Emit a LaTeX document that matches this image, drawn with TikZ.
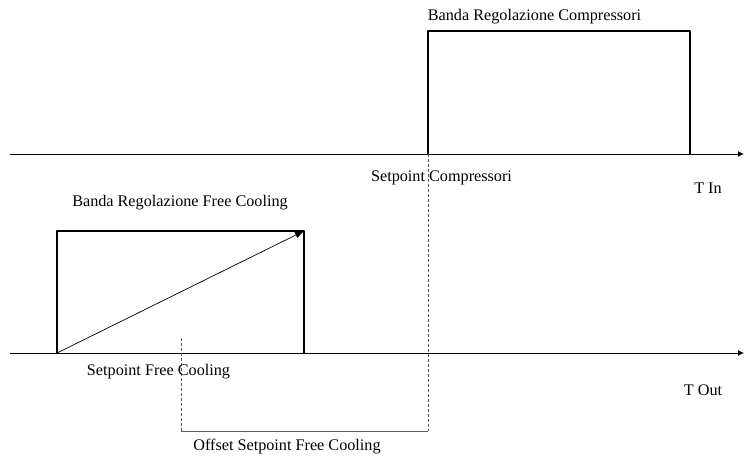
\documentclass[tikz,border=0pt]{standalone}
\usepackage{fontspec}
\setmainfont{Liberation Serif}
\usetikzlibrary{arrows.meta}
\begin{document}
\begin{tikzpicture}[x=1pt,y=-1pt,
  axis/.style={line width=0.9pt,-{Latex[length=6pt,width=6pt]}},
  band/.style={line width=2.6pt,line join=round},
  guide/.style={gray!70!black,dashed,dash pattern=on 3pt off 2pt,line width=0.8pt},
  lbl/.style={font=\fontsize{16.2}{18}\selectfont,inner sep=0pt}]
\useasboundingbox (0,0) rectangle (744,457);
% axes
\coordinate (a1s) at (10,154); \coordinate (a1e) at (744,154);
\coordinate (a2s) at (10,353); \coordinate (a2e) at (744,353);
\draw[axis] (a1s) -- (a1e);
\draw[axis] (a2s) -- (a2e);
% compressor band
\coordinate (c1) at (428,154); \coordinate (c2) at (428,31);
\coordinate (c3) at (690,31); \coordinate (c4) at (690,154);
\draw[band] (c1) -- (c2) -- (c3) -- (c4);
% free cooling band
\coordinate (f1) at (57,353); \coordinate (f2) at (57,231);
\coordinate (f3) at (304,231); \coordinate (f4) at (304,353);
\draw[band] (f1) -- (f2) -- (f3) -- (f4);
\draw[line width=0.7pt,-{Latex[length=9pt,width=7pt]}] (f1) -- (f3);
% guides
\coordinate (g1) at (428,431); \coordinate (g2) at (181,338); \coordinate (g3) at (181,431);
\draw[guide] (c1) -- (g1);
\draw[guide] (g2) -- (g3);
\draw[gray!70!black,line width=0.9pt] (g3) -- (g1);
% labels
\node[lbl] (lbc) at (534.5,17) {Banda Regolazione Compressori};
\node[lbl] (lsc) at (441.5,178) {Setpoint Compressori};
\node[lbl] (ltin) at (708,188) {T In};
\node[lbl] (lbf) at (180,203) {Banda Regolazione Free Cooling};
\node[lbl] (lsf) at (158.5,372) {Setpoint Free Cooling};
\node[lbl] (ltout) at (703,390) {T Out};
\node[lbl] (lof) at (287,447) {Offset Setpoint Free Cooling};
\end{tikzpicture}
\end{document}
